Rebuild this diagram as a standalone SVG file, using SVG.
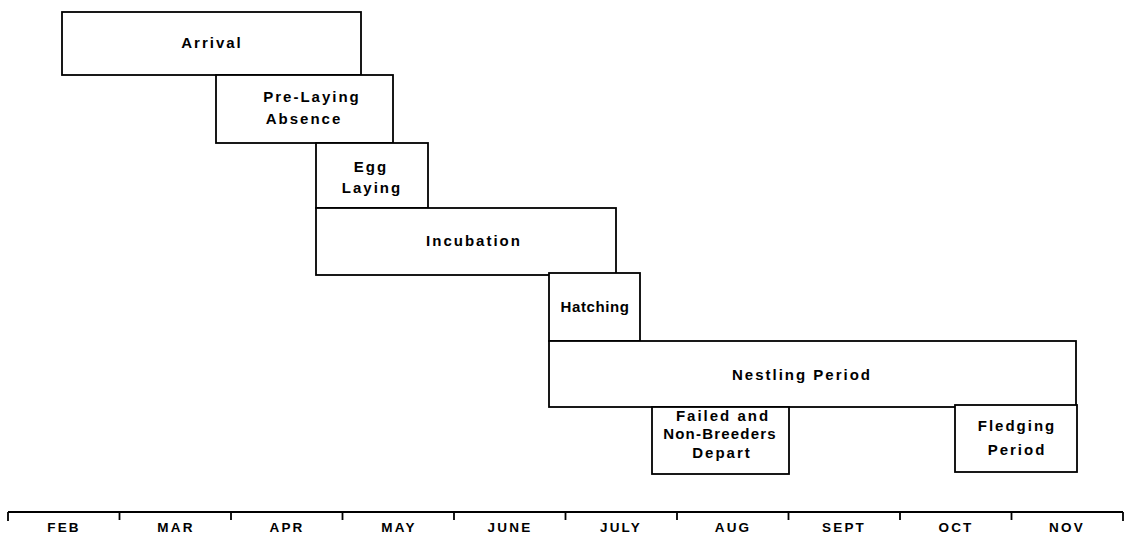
<svg xmlns="http://www.w3.org/2000/svg" width="1127" height="534" viewBox="0 0 1127 534">
<style>
.box{fill:#fff;stroke:#000;stroke-width:1.8}
.lbl{font-family:"Liberation Sans",Arial,sans-serif;font-weight:bold;font-size:15px;letter-spacing:2px;text-anchor:middle;fill:#000}
.mon{font-family:"Liberation Sans",Arial,sans-serif;font-weight:bold;font-size:13.5px;letter-spacing:2.2px;text-anchor:middle;fill:#000}
.axis{stroke:#000;stroke-width:1.8;fill:none}
</style>
<rect width="1127" height="534" fill="#fff"/>
<g id="arrival"><rect class="box" x="62" y="12" width="299" height="63"/><text class="lbl" x="212" y="48">Arrival</text></g>
<g id="prelaying"><rect class="box" x="216" y="75" width="177" height="68"/><text class="lbl" x="312" y="102">Pre-Laying</text><text class="lbl" x="304" y="124">Absence</text></g>
<g id="egglaying"><rect class="box" x="316" y="143" width="112" height="65"/><text class="lbl" x="371" y="172">Egg</text><text class="lbl" x="372" y="193">Laying</text></g>
<g id="incubation"><rect class="box" x="316" y="208" width="300" height="67"/><text class="lbl" x="474" y="246">Incubation</text></g>
<g id="hatching"><rect class="box" x="549" y="273" width="91" height="68"/><text class="lbl" x="595" y="312" style="letter-spacing:0.6px">Hatching</text></g>
<g id="nestling"><rect class="box" x="549" y="341" width="527" height="66"/><text class="lbl" x="802" y="380">Nestling Period</text></g>
<g id="failed"><rect class="box" x="652" y="407" width="137" height="67"/><text class="lbl" x="723" y="421">Failed and</text><text class="lbl" x="720" y="439" style="letter-spacing:1.2px">Non-Breeders</text><text class="lbl" x="722" y="458">Depart</text></g>
<g id="fledging"><rect class="box" x="955" y="405" width="122" height="67"/><text class="lbl" x="1017" y="431">Fledging</text><text class="lbl" x="1017" y="455">Period</text></g>
<g id="axis">
<path class="axis" d="M8,512 H1123 M8,512 V521 M119.5,512 V520 M231,512 V520 M342.5,512 V520 M454,512 V520 M565.5,512 V520 M677,512 V520 M788.5,512 V520 M900,512 V520 M1011.5,512 V520 M1123,512 V521"/>
<text class="mon" x="64" y="532">FEB</text>
<text class="mon" x="176" y="532">MAR</text>
<text class="mon" x="287" y="532">APR</text>
<text class="mon" x="399" y="532">MAY</text>
<text class="mon" x="510" y="532">JUNE</text>
<text class="mon" x="621" y="532">JULY</text>
<text class="mon" x="733" y="532">AUG</text>
<text class="mon" x="844" y="532">SEPT</text>
<text class="mon" x="956" y="532">OCT</text>
<text class="mon" x="1067" y="532">NOV</text>
</g>
</svg>
